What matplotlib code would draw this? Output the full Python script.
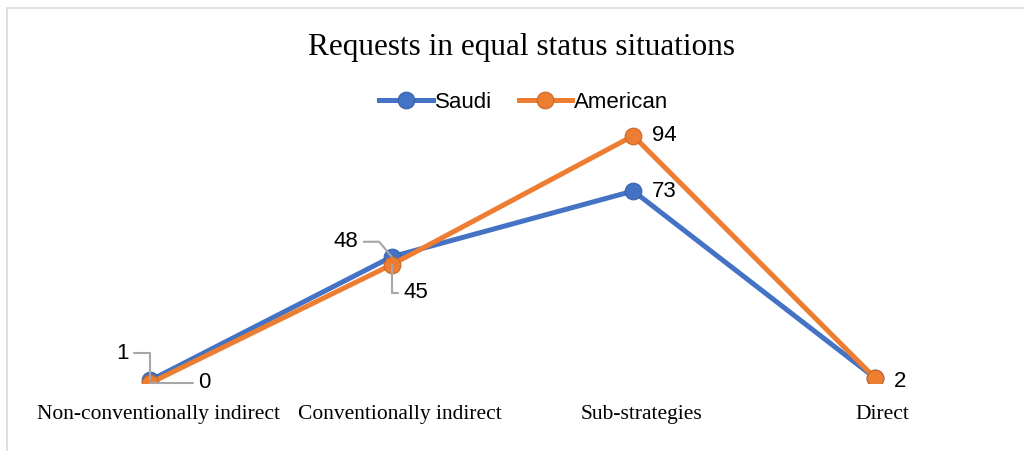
import matplotlib.pyplot as plt
import matplotlib.transforms as mtransforms
from matplotlib.patches import Rectangle

# request strategies per group
categories = ['Non-conventionally indirect', 'Conventionally indirect', 'Sub-strategies', 'Direct']
saudi = [1, 48, 73, 2]
american = [0, 45, 94, 2]

BLUE = '#4472C4'
ORANGE = '#ED7D31'
LEADER = '#a6a6a6'

fig = plt.figure(figsize=(10.24, 4.51), dpi=100)
ax = fig.add_axes([29.5 / 1024, 68 / 451, 966 / 1024, 263 / 451])

x = range(len(categories))
ax.plot(x, saudi, color=BLUE, lw=3.6, marker='o', ms=12, mfc=BLUE, mec='#3a62a8',
        mew=0.8, label='Saudi', solid_joinstyle='round', zorder=3)
ax.plot(x, american, color=ORANGE, lw=3.6, marker='o', ms=12, mfc=ORANGE, mec='#c8672a',
        mew=0.8, label='American', solid_joinstyle='round', zorder=4)

ax.set_xlim(-0.5, 3.5)
ax.set_ylim(0, 100)
ax.set_xticks(list(x))
ax.set_xticklabels(categories, family='Liberation Serif', fontsize=15.5)
ax.tick_params(axis='x', length=0, pad=16)
# category text sits a little right of the points
shift = mtransforms.ScaledTranslation(8 / 100, 0, fig.dpi_scale_trans)
for t in ax.get_xticklabels():
    t.set_transform(t.get_transform() + shift)
ax.set_yticks([])
for s in ax.spines.values():
    s.set_visible(False)
ax.patch.set_alpha(0)

lab_font = dict(family='Liberation Sans', fontsize=16, color='black')


def label(val, i, dx, dy, angle_b=None, angle_a=0):
    # value label offset from the point, with an optional leader line
    arrow = None
    if angle_b is not None:
        arrow = dict(arrowstyle='-', color=LEADER, lw=1.5, shrinkA=2, shrinkB=0,
                     connectionstyle=f'angle,angleA={angle_a},angleB={angle_b},rad=0')
    ax.annotate(str(val), xy=(i, val), xytext=(dx, dy), textcoords='offset pixels',
                ha='center', va='center', arrowprops=arrow, zorder=5, **lab_font)


label(saudi[0], 0, -28, 27, angle_b=90)
label(american[0], 0, 54, 0, angle_b=178)
label(saudi[1], 1, -46, 15, angle_b=130)
label(american[1], 1, 24, -28, angle_b=90)
label(american[2], 2, 31, 0)
label(saudi[2], 2, 31, 0)
label(american[3], 3, 25, -4)

fig.text(521 / 1024, 1 - 48 / 451, 'Requests in equal status situations', ha='center', va='center',
         family='Liberation Serif', fontsize=22.5)

ax.legend(loc='center', bbox_to_anchor=(524 / 1024, 1 - 102 / 451), bbox_transform=fig.transFigure,
          ncol=2, frameon=False, prop=dict(family='Liberation Sans', size=16),
          handlelength=2.4, handletextpad=0.1, columnspacing=1.2, borderaxespad=0)

# chart border
fig.patches.append(Rectangle((7 / 1024, -0.05), 1.1, 1 - 8 / 451 + 0.05, transform=fig.transFigure,
                             fill=False, ec='#d9d9d9', lw=1.2))

fig.savefig('out.png', dpi=100)
